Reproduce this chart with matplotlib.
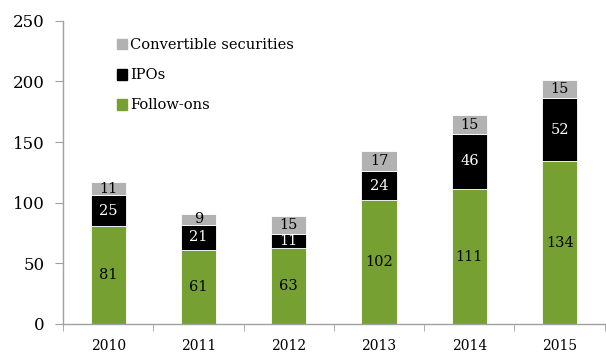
import numpy as np
import matplotlib.pyplot as plt
from matplotlib.patches import Patch

years = ['2010', '2011', '2012', '2013', '2014', '2015']
follow_ons = [81, 61, 63, 102, 111, 134]
ipos = [25, 21, 11, 24, 46, 52]
convertibles = [11, 9, 15, 17, 15, 15]

green = '#77a032'
black = '#000000'
grey = '#b2b2b2'
axis_grey = '#a0a0a0'

plt.rcParams['font.family'] = ['DejaVu Serif']

fig = plt.figure(figsize=(6.06, 3.54), dpi=100)
ax = fig.add_axes([0.104, 0.085, 0.894, 0.856])

x = np.arange(len(years))
w = 0.39
fo = np.array(follow_ons)
ip = np.array(ipos)
cv = np.array(convertibles)

ax.bar(x, fo, w, color=green, edgecolor='white', linewidth=0.6)
ax.bar(x, ip, w, bottom=fo, color=black, edgecolor='white', linewidth=0.6)
ax.bar(x, cv, w, bottom=fo + ip, color=grey, edgecolor='white', linewidth=0.6)

# value labels in the middle of each segment
for i in range(len(years)):
    ax.text(x[i], fo[i] / 2, str(fo[i]), ha='center', va='center', fontsize=10.5, color='black')
    ax.text(x[i], fo[i] + ip[i] / 2, str(ip[i]), ha='center', va='center', fontsize=10.5, color='white')
    ax.text(x[i], fo[i] + ip[i] + cv[i] / 2, str(cv[i]), ha='center', va='center', fontsize=10.5, color='black')

ax.set_xlim(-0.5, len(years) - 0.5)
ax.set_ylim(0, 250)
ax.set_yticks([0, 50, 100, 150, 200, 250])
ax.set_xticks(x)
ax.set_xticklabels(years, fontsize=10)
ax.set_xticks(np.arange(-0.5, len(years)), minor=True)

for s in ['top', 'right']:
    ax.spines[s].set_visible(False)
for s in ['left', 'bottom']:
    ax.spines[s].set_color(axis_grey)
    ax.spines[s].set_linewidth(1.0)

ax.tick_params(axis='y', labelsize=12, length=6, pad=7, color=axis_grey)
ax.tick_params(axis='x', which='major', length=0, pad=11)
ax.tick_params(axis='x', which='minor', length=5, color=axis_grey)

handles = [Patch(color=grey), Patch(color=black), Patch(color=green)]
labels = ['Convertible securities', 'IPOs', 'Follow-ons']
ax.legend(handles, labels, loc='upper left', bbox_to_anchor=(0.088, 0.962), frameon=False,
          fontsize=10.5, handlelength=0.75, handleheight=0.75, handletextpad=0.2,
          labelspacing=1.1, borderaxespad=0)

fig.savefig('out.png', dpi=100)
